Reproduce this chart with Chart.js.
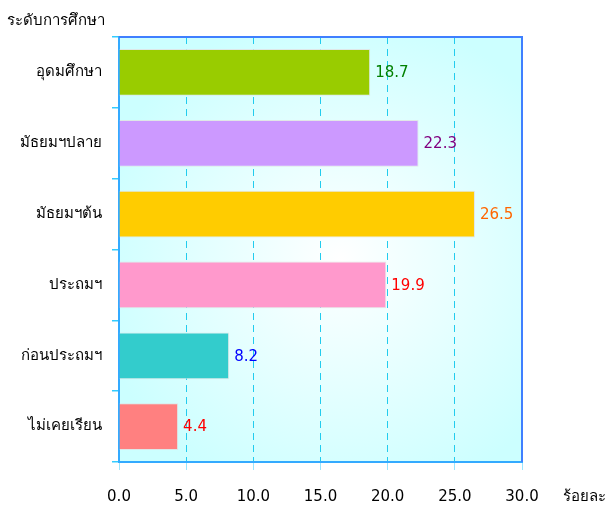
<!DOCTYPE html>
<html>
<head>
<meta charset="utf-8">
<script src="https://cdn.jsdelivr.net/npm/chart.js@4.4.1/dist/chart.umd.min.js"></script>
<style>
  html, body { margin: 0; padding: 0; background: #fff; }
  #wrap { width: 608px; height: 510px; }
</style>
</head>
<body>
<div id="wrap"><canvas id="chart"></canvas></div>
<script>
// ข้อมูล
const categories = ['อุดมศึกษา', 'มัธยมฯปลาย', 'มัธยมฯต้น', 'ประถมฯ', 'ก่อนประถมฯ', 'ไม่เคยเรียน'];
const values = [18.7, 22.3, 26.5, 19.9, 8.2, 4.4];
const barColors = ['#99cc00', '#cc99ff', '#ffcc00', '#ff99cc', '#33cccc', '#ff8080'];
const labelColors = ['#008000', '#800080', '#ff6600', '#ff0000', '#0000ff', '#ff0000'];
const xTicks = [0, 5, 10, 15, 20, 25, 30];
const yTitle = 'ระดับการศึกษา';
const xTitle = 'ร้อยละ';

const FONT = "Tahoma, 'DejaVu Sans', sans-serif";

// พื้นหลัง + กรอบ + ชื่อแกน + ตัวเลขบนแท่ง
const decor = {
    id: 'decor',
    beforeDraw(chart) {
        const { ctx, chartArea: a } = chart;
        const cx = (a.left + a.right) / 2, cy = (a.top + a.bottom) / 2;
        const g = ctx.createRadialGradient(cx + 20, cy + 10, 0, cx + 20, cy + 10, 250);
        g.addColorStop(0, '#ffffff');
        g.addColorStop(1, '#ccffff');
        ctx.save();
        ctx.fillStyle = g;
        ctx.fillRect(a.left, a.top, a.right - a.left, a.bottom - a.top);
        ctx.restore();
    },
    afterDraw(chart) {
        const { ctx, chartArea: a } = chart;
        ctx.save();
        // เส้นกรอบบนและขวา
        ctx.strokeStyle = '#3f7fff';
        ctx.lineWidth = 2;
        ctx.beginPath();
        ctx.moveTo(a.left, a.top);
        ctx.lineTo(a.right, a.top);
        ctx.lineTo(a.right, a.bottom);
        ctx.stroke();

        ctx.fillStyle = '#000';
        ctx.font = '15px ' + FONT;
        ctx.textBaseline = 'middle';
        ctx.textAlign = 'left';
        ctx.fillText(yTitle, 7, 21);
        ctx.fillText(xTitle, 563, 497);

        // ตัวเลขท้ายแท่ง
        const meta = chart.getDatasetMeta(0);
        meta.data.forEach((bar, i) => {
            ctx.fillStyle = labelColors[i];
            ctx.fillText(values[i].toFixed(1), bar.x + 5, bar.y + 1);
        });
        ctx.restore();
    }
};

new Chart(document.getElementById('chart'), {
    type: 'bar',
    data: {
        labels: categories,
        datasets: [{
            data: values,
            backgroundColor: barColors,
            borderColor: 'rgba(225,225,225,0.8)',
            borderWidth: 1,
            categoryPercentage: 1,
            barPercentage: 0.66
        }]
    },
    options: {
        indexAxis: 'y',
        responsive: true,
        maintainAspectRatio: false,
        animation: false,
        layout: { padding: { top: 37, right: 86, left: 0, bottom: 0 } },
        plugins: { legend: { display: false }, tooltip: { enabled: false } },
        scales: {
            x: {
                min: 0,
                max: 30,
                afterBuildTicks: s => { s.ticks = xTicks.map(v => ({ value: v })); },
                afterFit: s => { s.height = 48; },
                grid: {
                    color: '#22ccee',
                    lineWidth: 1,
                    tickLength: 8,
                    tickBorderDash: [],
                    tickColor: '#99e6ff'
                },
                border: { display: true, color: '#33aaff', width: 2, dash: [7, 5] },
                ticks: {
                    color: '#000',
                    font: { family: FONT, size: 15 },
                    padding: 18,
                    callback: v => Number(v).toFixed(1)
                }
            },
            y: {
                afterFit: s => { s.width = 119; },
                grid: {
                    offset: true,
                    drawOnChartArea: false,
                    color: '#33ccff',
                    tickLength: 7,
                    lineWidth: 1.5
                },
                border: { display: true, color: '#33aaff', width: 2 },
                ticks: {
                    color: '#000',
                    font: { family: FONT, size: 15 },
                    padding: 10
                }
            }
        }
    },
    plugins: [decor]
});
</script>
</body>
</html>
